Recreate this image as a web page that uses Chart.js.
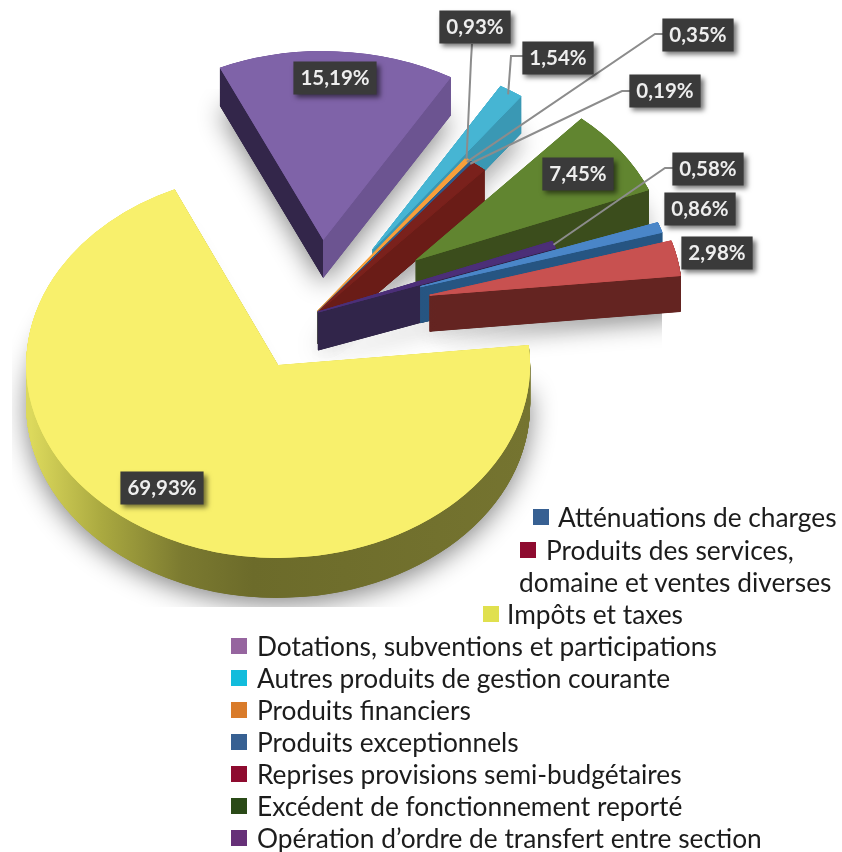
<!DOCTYPE html>
<html lang="fr">
<head>
<meta charset="utf-8">
<title>Recettes de fonctionnement</title>
<script src="https://cdn.jsdelivr.net/npm/chart.js@4"></script>
<style>
  html, body { margin: 0; padding: 0; background: #fff; }
  #wrap { position: relative; width: 842px; height: 852px; overflow: hidden; }
  #pie { position: absolute; left: 0; top: 0; }
  .row { position: absolute; font: 26.3px/32px Lato, sans-serif; color: #1c1c1c; white-space: nowrap; }
  .row i { position: absolute; top: 8px; width: 16px; height: 16px; }
</style>
</head>
<body>
<div id="wrap"><canvas id="pie" width="842" height="852"></canvas></div>
<script>
const categories = [
  'Atténuations de charges',
  'Produits des services,',
  'Impôts et taxes',
  'Dotations, subventions et participations',
  'Autres produits de gestion courante',
  'Produits financiers',
  'Produits exceptionnels',
  'Reprises provisions semi-budgétaires',
  'Excédent de fonctionnement reporté',
  'Opération d’ordre de transfert entre section',
];
const values = [0.86, 2.98, 69.93, 15.19, 1.54, 0.35, 0.19, 0.93, 7.45, 0.58];

// couleurs
const topColors = ['#4a86c8', '#c85150', '#f8f06c', '#7f63a8', '#46b5d3', '#f79f3c', '#2e5a8a', '#7a211c', '#618530', '#4c2f78'];
const legendColors = ['#376092', '#8e0b2f', '#e0e04e', '#96659f', '#12bcdc', '#d97b2a', '#376092', '#8e0b2f', '#2a4a17', '#663078'];
const sideColors = [
  [[0, '#265582'], [1, '#265582']],
  [[0, '#642421'], [1, '#642421']],
  [[0.01, '#dcd95c'], [0.15, '#aaa940'], [0.31, '#7b7a30'], [0.45, '#6c6b2a'], [1, '#757430']],
  [[0, '#33264a'], [0.5, '#33264a'], [0.5, '#6c5491'], [1, '#6c5491']],
  [[0, '#3a98b4'], [1, '#3a98b4']],
  [[0, '#b06f20'], [1, '#b06f20']],
  [[0, '#1f4060'], [1, '#1f4060']],
  [[0, '#6a1c17'], [1, '#6a1c17']],
  [[0, '#3b4d1c'], [1, '#3b4d1c']],
  [[0, '#31254a'], [1, '#31254a']],
];

// éclatement, aplatissement et épaisseur de chaque part, puis ordre de dessin (du fond vers l'avant)
const explode = [108, 114, 80, 96, 100, 0, 0, 0, 119, 0];
const squash = [0.75, 0.75, 0.765, 0.75, 0.75, 0.75, 0.75, 0.75, 0.75, 0.75];
const depth = [36, 36, 40, 38, 37, 32, 32, 32, 35, 38];
// contour qui garde lisibles les parts très étroites
const sliverStroke = [1, 1, 0, 0, 1, 3, 1.5, 1, 0, 1.5];
const drawOrder = [3, 4, 5, 6, 7, 8, 9, 0, 1, 2];

// mise en page du camembert
const PIE = { cx: 318, cy: 312, radius: 252 };
const SHADOW_CLIP = { x: 12, y: 89, w: 650, h: 518 };

// étiquettes : centre de la boîte, puis tracé du trait de rappel vers la part
const labelBoxes = [
  { slice: 0, x: 700, y: 209 },
  { slice: 1, x: 717, y: 253 },
  { slice: 2, x: 162, y: 488 },
  { slice: 3, x: 335, y: 78 },
  { slice: 4, x: 558, y: 58, line: [[524, 56], [511, 56]], reach: 0.98 },
  { slice: 5, x: 698, y: 35, line: [[665, 34], [655, 34]], reach: 0.99 },
  { slice: 6, x: 665, y: 91, line: [[632, 91], [622, 91]], reach: 0.99 },
  { slice: 7, x: 475, y: 27, line: [[472, 44], [471, 60]], reach: 1.0, shift: -3.5 },
  { slice: 8, x: 578, y: 174 },
  { slice: 9, x: 708, y: 169, line: [[675, 168], [665, 168]], reach: 1.0 },
];

// légende : gauche de la pastille, gauche du texte, ligne
const legendRows = [
  { i: 0, box: 533, text: 558, y: 501 },
  { i: 1, box: 520, text: 546, y: 534 },
  { text: 519, y: 566, extra: 'domaine et ventes diverses' },
  { i: 2, box: 483, text: 507, y: 598 },
  { i: 3, box: 231, text: 257, y: 630 },
  { i: 4, box: 231, text: 257, y: 662 },
  { i: 5, box: 231, text: 257, y: 694 },
  { i: 6, box: 231, text: 257, y: 726 },
  { i: 7, box: 231, text: 257, y: 758 },
  { i: 8, box: 231, text: 257, y: 790 },
  { i: 9, box: 231, text: 257, y: 822 },
];

function midAngle(arc) {
  return (arc.startAngle + arc.endAngle) / 2;
}

// place le contexte sur une part : aplatie, éclatée, décalée en hauteur
function placeSlice(ctx, arc, i, drop) {
  const mid = midAngle(arc);
  ctx.translate(PIE.cx, PIE.cy + drop);
  ctx.scale(1, squash[i]);
  ctx.translate(Math.cos(mid) * explode[i], Math.sin(mid) * explode[i]);
  ctx.translate(-arc.x, -arc.y);
}

function paintArc(ctx, arc, i, drop, fill) {
  const saved = arc.options;
  arc.options = Object.assign({}, saved, {
    backgroundColor: fill,
    borderColor: fill,
    borderWidth: sliverStroke[i],
    offset: 0,
  });
  ctx.save();
  placeSlice(ctx, arc, i, drop);
  arc.draw(ctx);
  ctx.restore();
  arc.options = saved;
}

function sideFill(ctx, arc, i) {
  const g = ctx.createLinearGradient(arc.x - PIE.radius, 0, arc.x + PIE.radius, 0);
  sideColors[i].forEach(s => g.addColorStop(s[0], s[1]));
  return g;
}

// point sur le bord d'une part, en coordonnées de page
function slicePoint(arc, i, reach, shift) {
  const mid = midAngle(arc);
  const a = mid + (shift || 0) * Math.PI / 180;
  const r = PIE.radius * reach;
  return {
    x: PIE.cx + Math.cos(mid) * explode[i] + Math.cos(a) * r,
    y: PIE.cy + (Math.sin(mid) * explode[i] + Math.sin(a) * r) * squash[i],
  };
}

const pie3d = {
  id: 'pie3d',
  beforeDatasetDraw(chart, args) {
    const ctx = chart.ctx;
    const arcs = args.meta.data;

    // ombre portée, coupée en rectangle comme sur l'original
    ctx.save();
    ctx.beginPath();
    ctx.rect(SHADOW_CLIP.x, SHADOW_CLIP.y, SHADOW_CLIP.w, SHADOW_CLIP.h);
    ctx.clip();
    ctx.shadowColor = 'rgba(0,0,0,0.48)';
    ctx.shadowBlur = 26;
    ctx.shadowOffsetY = 6;
    drawOrder.forEach(i => paintArc(ctx, arcs[i], i, depth[i], '#999'));
    ctx.restore();

    drawOrder.forEach(i => {
      const fill = sideFill(ctx, arcs[i], i);
      // pas fin : les parts très étroites laisseraient des trous
      for (let k = depth[i]; k > 0; k -= 0.25) paintArc(ctx, arcs[i], i, k, fill);
      // deux passes pour masquer le liseré du flanc sur le bord lissé
      paintArc(ctx, arcs[i], i, 0, topColors[i]);
      paintArc(ctx, arcs[i], i, 0, topColors[i]);
    });
    return false;
  },
  afterDraw(chart) {
    const ctx = chart.ctx;
    const arcs = chart.getDatasetMeta(0).data;

    // traits de rappel
    ctx.save();
    ctx.strokeStyle = '#8c8c8c';
    ctx.lineWidth = 2;
    labelBoxes.filter(b => b.line).forEach(b => {
      const end = slicePoint(arcs[b.slice], b.slice, b.reach, b.shift);
      ctx.beginPath();
      b.line.forEach((p, n) => (n ? ctx.lineTo(p[0], p[1]) : ctx.moveTo(p[0], p[1])));
      ctx.lineTo(end.x, end.y);
      ctx.stroke();
    });
    ctx.restore();

    // boîtes de valeurs, à la largeur du texte
    labelBoxes.forEach(b => {
      const text = values[b.slice].toFixed(2).replace('.', ',') + '%';
      ctx.font = 'bold 20.5px Lato, sans-serif';
      const w = ctx.measureText(text).width + 14;
      ctx.save();
      ctx.shadowColor = 'rgba(0,0,0,0.55)';
      ctx.shadowBlur = 5;
      ctx.shadowOffsetX = 3;
      ctx.shadowOffsetY = 3;
      ctx.fillStyle = '#3a3a3a';
      ctx.fillRect(b.x - w / 2, b.y - 16.5, w, 33);
      ctx.restore();
      ctx.fillStyle = '#eeeeee';
      ctx.textAlign = 'center';
      ctx.textBaseline = 'middle';
      ctx.fillText(text, b.x, b.y + 0.5);
    });
  },
};

new Chart(document.getElementById('pie'), {
  type: 'pie',
  data: {
    labels: categories,
    datasets: [{ data: values, backgroundColor: topColors, borderWidth: 0 }],
  },
  options: {
    responsive: false,
    animation: false,
    rotation: 70.2,
    radius: PIE.radius,
    layout: { padding: 0 },
    plugins: { legend: { display: false }, tooltip: { enabled: false } },
  },
  plugins: [pie3d],
});

// légende en HTML : sa disposition en escalier ne rentre pas dans celle de Chart.js
const wrap = document.getElementById('wrap');
legendRows.forEach(r => {
  const row = document.createElement('div');
  row.className = 'row';
  row.style.left = r.text + 'px';
  row.style.top = r.y + 'px';
  row.textContent = r.extra || categories[r.i];
  if (r.box !== undefined) {
    const sw = document.createElement('i');
    sw.style.left = (r.box - r.text) + 'px';
    sw.style.background = legendColors[r.i];
    row.appendChild(sw);
  }
  wrap.appendChild(row);
});
</script>
</body>
</html>
